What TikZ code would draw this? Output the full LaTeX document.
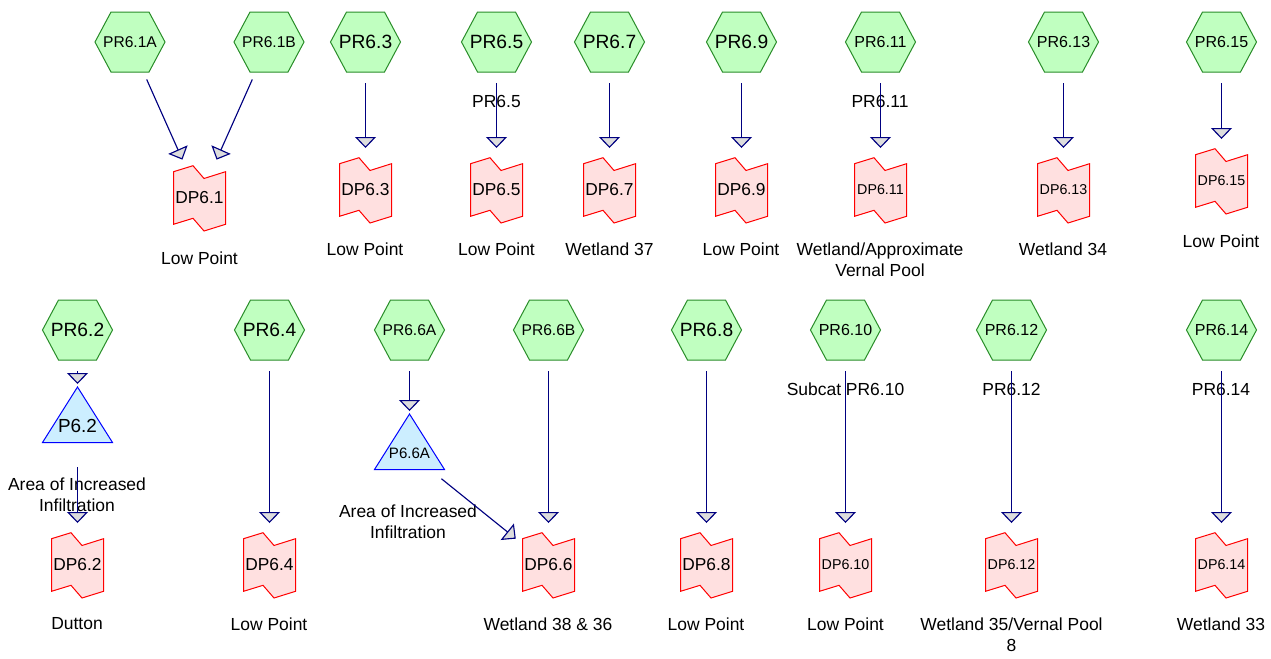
\documentclass[tikz,border=0pt]{standalone}
\usepackage{fontspec}
\setmainfont{Liberation Sans}
\usetikzlibrary{arrows.meta}
\definecolor{hexfill}{RGB}{192,255,192}
\definecolor{hexdraw}{RGB}{40,140,40}
\definecolor{dpfill}{RGB}{255,224,224}
\definecolor{dpdraw}{RGB}{255,0,0}
\definecolor{trifill}{RGB}{204,238,255}
\definecolor{tridraw}{RGB}{0,0,255}
\definecolor{flowcol}{RGB}{0,0,128}
\definecolor{tipgray}{RGB}{221,221,221}
\tikzset{
  pics/hexa/.style={code={\filldraw[fill=hexfill,draw=hexdraw,line width=0.75pt] (-35,0) -- (-19,-30) -- (19,-30) -- (35,0) -- (19,30) -- (-19,30) -- cycle;}},
  pics/dpshape/.style={code={\filldraw[fill=dpfill,draw=dpdraw,line width=0.75pt] (-26,-26.3) -- (-6.5,-32.3) -- (4.5,-19.5) -- (26,-26.3) -- (26,26.3) -- (4.5,33) -- (-6.5,20.3) -- (-26,26.3) -- cycle;}},
  pics/tri/.style={code={\filldraw[fill=trifill,draw=tridraw,line width=0.75pt] (0,-39) -- (35,16.5) -- (-35,16.5) -- cycle;}},
  txt/.style={inner sep=0pt, text=black},
  hexbig/.style={txt, font=\fontsize{14.4}{17}\selectfont},
  hexmid/.style={txt, font=\fontsize{12}{14}\selectfont},
  hexsmall/.style={txt, font=\fontsize{11.7}{14}\selectfont},
  dpbig/.style={txt, font=\fontsize{13}{15}\selectfont},
  dpsmall/.style={txt, font=\fontsize{10.7}{13}\selectfont},
  tribig/.style={txt, font=\fontsize{14.2}{17}\selectfont},
  trismall/.style={txt, font=\fontsize{11.3}{14}\selectfont},
  lbl/.style={txt, align=center, font=\fontsize{13.1}{15.75}\selectfont},
  flow/.style={draw=flowcol, line width=0.85pt, shorten <=30.75pt, shorten >=31.5pt,
    -{Triangle[width=15.75pt,length=8.25pt,fill=tipgray]}},
}
\begin{document}
\begin{tikzpicture}[x=0.75pt,y=-0.75pt]
\useasboundingbox (0,0) rectangle (1271,658);
% ---------- top row: hexagons
\pic at (130,42) {hexa};   \node[hexsmall] (PR61A) at (130,42) {PR6.1A};
\pic at (269,42) {hexa};   \node[hexsmall] (PR61B) at (269,42) {PR6.1B};
\pic at (365.5,42) {hexa}; \node[hexbig] (PR63) at (365.5,42) {PR6.3};
\pic at (496.5,42) {hexa}; \node[hexbig] (PR65) at (496.5,42) {PR6.5};
\pic at (609.5,42) {hexa}; \node[hexbig] (PR67) at (609.5,42) {PR6.7};
\pic at (741.5,42) {hexa}; \node[hexbig] (PR69) at (741.5,42) {PR6.9};
\pic at (880.5,42) {hexa}; \node[hexmid] (PR611) at (880.5,42) {PR6.11};
\pic at (1063.5,42) {hexa};\node[hexmid] (PR613) at (1063.5,42) {PR6.13};
\pic at (1221.5,42) {hexa};\node[hexmid] (PR615) at (1221.5,42) {PR6.15};
% ---------- top row: design points
\pic at (199.5,198) {dpshape}; \node[dpbig] (DP61) at (199.5,198) {DP6.1};
\pic at (365.5,190) {dpshape}; \node[dpbig] (DP63) at (365.5,190) {DP6.3};
\pic at (496.5,190) {dpshape}; \node[dpbig] (DP65) at (496.5,190) {DP6.5};
\pic at (609.5,190) {dpshape}; \node[dpbig] (DP67) at (609.5,190) {DP6.7};
\pic at (741.5,190) {dpshape}; \node[dpbig] (DP69) at (741.5,190) {DP6.9};
\pic at (880.5,190) {dpshape}; \node[dpsmall] (DP611) at (880.5,190) {DP6.11};
\pic at (1063.5,190) {dpshape};\node[dpsmall] (DP613) at (1063.5,190) {DP6.13};
\pic at (1221.5,181) {dpshape};\node[dpsmall] (DP615) at (1221.5,181) {DP6.15};
% ---------- top row: labels
\node[lbl] (L61) at (199.5,258) {Low Point};
\node[lbl] (L63) at (365,249) {Low Point};
\node[lbl] (L65) at (496.5,249) {Low Point};
\node[lbl] (L67) at (609.5,249) {Wetland 37};
\node[lbl] (L69) at (741,249) {Low Point};
\node[lbl] (L611) at (880,260) {Wetland/Approximate\\Vernal Pool};
\node[lbl] (L613) at (1063,249) {Wetland 34};
\node[lbl] (L615) at (1221,241) {Low Point};
\node[lbl] (E65) at (496.5,101) {PR6.5};
\node[lbl] (E611) at (880,101) {PR6.11};
% ---------- bottom row: hexagons
\pic at (77.5,330) {hexa};   \node[hexbig] (PR62) at (77.5,330) {PR6.2};
\pic at (269.5,330) {hexa};  \node[hexbig] (PR64) at (269.5,330) {PR6.4};
\pic at (409.5,330) {hexa};  \node[hexsmall] (PR66A) at (409.5,330) {PR6.6A};
\pic at (548.5,330) {hexa};  \node[hexsmall] (PR66B) at (548.5,330) {PR6.6B};
\pic at (706.5,330) {hexa};  \node[hexbig] (PR68) at (706.5,330) {PR6.8};
\pic at (845.5,330) {hexa};  \node[hexmid] (PR610) at (845.5,330) {PR6.10};
\pic at (1011.5,330) {hexa}; \node[hexmid] (PR612) at (1011.5,330) {PR6.12};
\pic at (1221.5,330) {hexa}; \node[hexmid] (PR614) at (1221.5,330) {PR6.14};
% ---------- bottom row: ponds
\pic at (77.5,426) {tri};   \node[tribig] (P62) at (77.5,426) {P6.2};
\pic at (409.5,453) {tri};  \node[trismall] (P66A) at (409.5,453) {P6.6A};
% ---------- bottom row: design points
\pic at (77.5,565) {dpshape};   \node[dpbig] (DP62) at (77.5,565) {DP6.2};
\pic at (269.5,565) {dpshape};  \node[dpbig] (DP64) at (269.5,565) {DP6.4};
\pic at (548.5,565) {dpshape};  \node[dpbig] (DP66) at (548.5,565) {DP6.6};
\pic at (706.5,565) {dpshape};  \node[dpbig] (DP68) at (706.5,565) {DP6.8};
\pic at (845.5,565) {dpshape};  \node[dpsmall] (DP610) at (845.5,565) {DP6.10};
\pic at (1011.5,565) {dpshape}; \node[dpsmall] (DP612) at (1011.5,565) {DP6.12};
\pic at (1221.5,565) {dpshape}; \node[dpsmall] (DP614) at (1221.5,565) {DP6.14};
% ---------- bottom row: labels
\node[lbl] (LP62) at (77,495) {Area of Increased\\Infiltration};
\node[lbl] (LP66A) at (408,521.5) {Area of Increased\\Infiltration};
\node[lbl] (L62) at (77,624) {Dutton};
\node[lbl] (L64) at (269,624) {Low Point};
\node[lbl] (L66) at (548,624) {Wetland 38 \& 36};
\node[lbl] (L68) at (706,624) {Low Point};
\node[lbl] (L610) at (845.5,624) {Low Point};
\node[lbl] (L612) at (1011.5,634.5) {Wetland 35/Vernal Pool\\8};
\node[lbl] (L614) at (1221,624) {Wetland 33};
\node[lbl] (E610) at (845.5,389) {Subcat PR6.10};
\node[lbl] (E612) at (1011.5,389) {PR6.12};
\node[lbl] (E614) at (1221,389) {PR6.14};
% ---------- connectors
\draw[flow] (PR61A.center) -- (DP61.center);
\draw[flow] (PR61B.center) -- (DP61.center);
\draw[flow] (PR63.center) -- (DP63.center);
\draw[flow] (PR65.center) -- (DP65.center);
\draw[flow] (PR67.center) -- (DP67.center);
\draw[flow] (PR69.center) -- (DP69.center);
\draw[flow] (PR611.center) -- (DP611.center);
\draw[flow] (PR613.center) -- (DP613.center);
\draw[flow] (PR615.center) -- (DP615.center);
\draw[flow] (PR62.center) -- (P62.center);
\draw[flow] (P62.center) -- (DP62.center);
\draw[flow] (PR64.center) -- (DP64.center);
\draw[flow] (PR66A.center) -- (P66A.center);
\draw[flow] (P66A.center) -- (DP66.center);
\draw[flow] (PR66B.center) -- (DP66.center);
\draw[flow] (PR68.center) -- (DP68.center);
\draw[flow] (PR610.center) -- (DP610.center);
\draw[flow] (PR612.center) -- (DP612.center);
\draw[flow] (PR614.center) -- (DP614.center);
\end{tikzpicture}
\end{document}
